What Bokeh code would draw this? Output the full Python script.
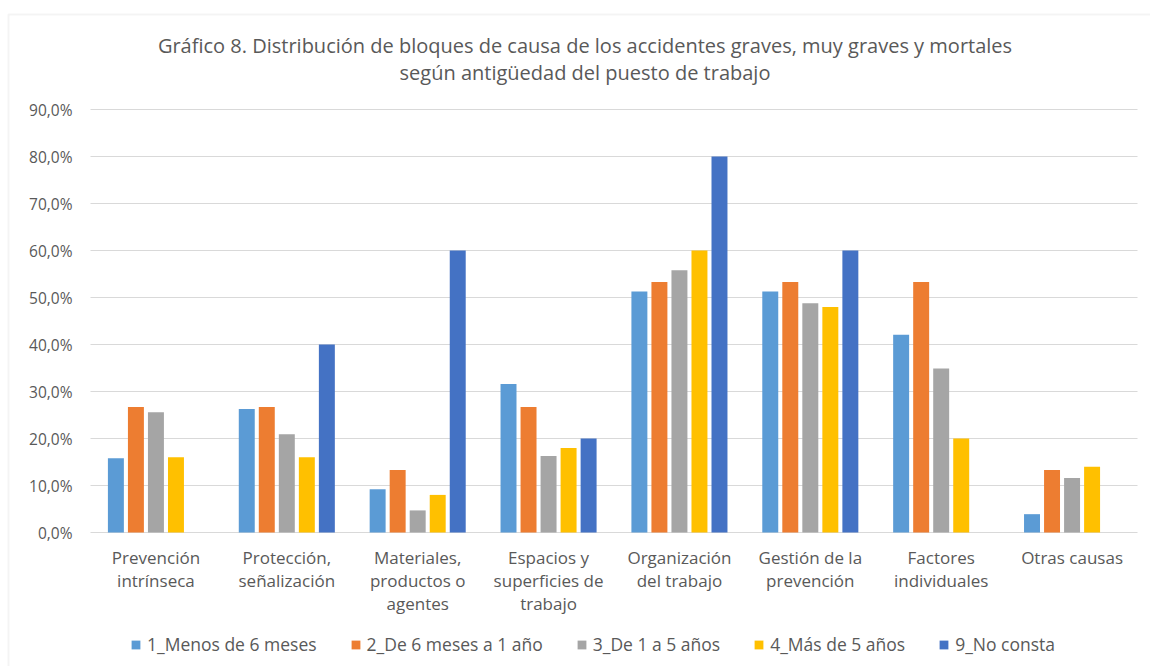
from bokeh.plotting import figure
from bokeh.models import (Legend, LegendItem, Label, ColumnDataSource, Range1d,
                          BoxAnnotation)
from bokeh.transform import dodge
from bokeh.core.properties import value
from bokeh.embed import file_html
from bokeh.resources import INLINE

categories = ["Prevención intrínseca", "Protección, señalización",
              "Materiales, productos o agentes", "Espacios y superficies de trabajo",
              "Organización del trabajo", "Gestión de la prevención",
              "Factores individuales", "Otras causas"]
category_label_lines = [["Prevención", "intrínseca"], ["Protección,", "señalización"],
                        ["Materiales,", "productos o", "agentes"],
                        ["Espacios y", "superficies de", "trabajo"],
                        ["Organización", "del trabajo"], ["Gestión de la", "prevención"],
                        ["Factores", "individuales"], ["Otras causas"]]

series_names = ["1_Menos de 6 meses", "2_De 6 meses a 1 año", "3_De 1 a 5 años",
                "4_Más de 5 años", "9_No consta"]

menos_6_meses = [15.8, 26.3, 9.2, 31.6, 51.3, 51.3, 42.1, 3.9]
de_6_meses_a_1_anio = [26.7, 26.7, 13.3, 26.7, 53.3, 53.3, 53.3, 13.3]
de_1_a_5_anios = [25.6, 20.9, 4.7, 16.3, 55.8, 48.8, 34.9, 11.6]
mas_de_5_anios = [16.0, 16.0, 8.0, 18.0, 60.0, 48.0, 20.0, 14.0]
no_consta = [0.0, 40.0, 60.0, 20.0, 80.0, 60.0, 0.0, 0.0]

y_ticks = [0, 10, 20, 30, 40, 50, 60, 70, 80, 90]
y_tick_labels = ["0,0%", "10,0%", "20,0%", "30,0%", "40,0%", "50,0%",
                 "60,0%", "70,0%", "80,0%", "90,0%"]

title_lines = ["Gráfico 8. Distribución de bloques de causa de los accidentes graves, muy graves y mortales",
               "según antigüedad del puesto de trabajo"]

colors = ["#5B9BD5", "#ED7D31", "#A5A5A5", "#FFC000", "#4472C4"]
FONT = "Open Sans"
TXT = "#595959"
GRID = "#d9d9d9"

# ---- layout constants (pixels) ----
W, H = 1150, 666
PLOT_L, PLOT_R = 90, 1137          # plot area (grid) extent
Y0_PX, YMAX_PX = 532, 109          # pixel rows of 0 % and 90 %
YMAX = 90
ppu = (Y0_PX - YMAX_PX) / YMAX     # pixels per percentage point
n = len(categories)
ppx = (PLOT_R - PLOT_L) / n        # pixels per category


def px_to_x(px):
    return (px - PLOT_L) / ppx - 0.5


def px_to_y(py):
    return (Y0_PX - py) / ppu


positions = list(range(n))
source = ColumnDataSource(data=dict(
    pos=positions,
    s1=menos_6_meses, s2=de_6_meses_a_1_anio, s3=de_1_a_5_anios,
    s4=mas_de_5_anios, s5=no_consta,
))

p = figure(width=W, height=H,
           x_range=Range1d(px_to_x(0), px_to_x(W)),
           y_range=Range1d(px_to_y(H), px_to_y(0)),
           output_backend="svg", toolbar_location=None,
           x_axis_location=None, y_axis_location=None, title_location=None,
           min_border_left=0, min_border_right=0, min_border_top=0, min_border_bottom=0)

p.outline_line_color = None
p.background_fill_color = "white"
p.border_fill_color = "white"
p.xgrid.visible = False
p.ygrid.visible = False

# chart-area border (top and left edges visible)
p.add_layout(BoxAnnotation(left=px_to_x(8), right=px_to_x(W + 20),
                           top=px_to_y(14), bottom=px_to_y(H + 20),
                           fill_alpha=0, line_color=GRID, line_width=2))

# horizontal grid lines + y tick labels
grid_source = ColumnDataSource(data=dict(
    y=y_ticks, label=y_tick_labels,
    x0=[px_to_x(PLOT_L)] * len(y_ticks), x1=[px_to_x(PLOT_R)] * len(y_ticks),
    xl=[px_to_x(PLOT_L - 18)] * len(y_ticks)))
p.segment(x0="x0", y0="y", x1="x1", y1="y", source=grid_source,
          line_color=GRID, line_width=1)
p.text(x="xl", y="y", text="label", source=grid_source,
       text_align="right", text_baseline="middle",
       text_font=value(FONT), text_font_size="15.5px", text_color=TXT)

step = 0.153
offsets = [-2 * step, -step, 0, step, 2 * step]
renderers = []
for i, col in enumerate(["s1", "s2", "s3", "s4", "s5"]):
    r = p.vbar(x=dodge("pos", offsets[i]), top=col, width=0.122,
               source=source, fill_color=colors[i], line_color=None)
    renderers.append(r)

# category labels under the 0 % line
label_source = ColumnDataSource(data=dict(
    pos=positions, zero=[0] * n, label=["\n".join(l) for l in category_label_lines]))
p.text(x="pos", y="zero", text="label", source=label_source,
       text_align="center", text_baseline="top", y_offset=13,
       text_font=value(FONT), text_font_size="17px", text_line_height=1.02,
       text_color=TXT)

# title
for txt, py in zip(title_lines, [45, 72]):
    p.add_layout(Label(x=px_to_x(584.5), y=px_to_y(py), text=txt,
                       text_align="center", text_baseline="middle",
                       text_font=FONT, text_font_size="20px", text_color=TXT))

legend = Legend(items=[LegendItem(label=nm, renderers=[r]) for nm, r in zip(series_names, renderers)],
                orientation="horizontal", location=(130, 10))
legend.border_line_color = None
legend.background_fill_alpha = 0
legend.padding = 0
legend.margin = 0
legend.spacing = 33
legend.label_standoff = 6
legend.glyph_width = 11
legend.glyph_height = 11
legend.label_text_font = FONT
legend.label_text_font_size = "17.5px"
legend.label_text_color = TXT
p.add_layout(legend, "center")

open("out.html", "w").write(file_html(p, INLINE))
